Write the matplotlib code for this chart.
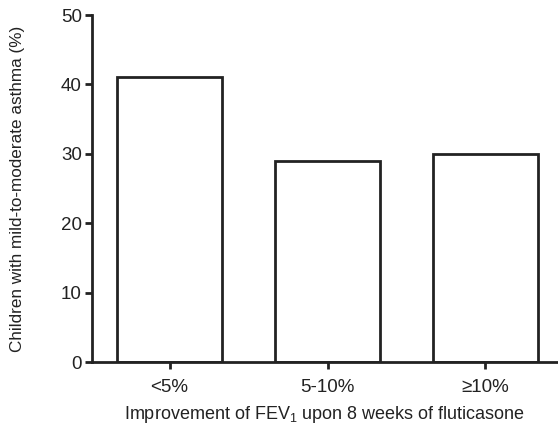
import matplotlib
matplotlib.use('Agg')
import matplotlib.pyplot as plt

plt.rcParams['font.family'] = ['Liberation Sans', 'DejaVu Sans']
plt.rcParams['mathtext.default'] = 'regular'

categories = ['<5%', '5-10%', '≥10%']
values = [41, 29, 30]
y_ticks = [0, 10, 20, 30, 40, 50]

fig = plt.figure(figsize=(5.58, 4.28), dpi=100)
ax = fig.add_axes([0.164, 0.1542, 0.836, 0.8107])

x = range(len(categories))
ax.bar(x, values, width=0.665, color='white', edgecolor='#222222', linewidth=2)

ax.set_xlim(-0.494, 2.459)
ax.set_ylim(0, 50)
ax.set_xticks(list(x))
ax.set_xticklabels(categories, fontsize=13.5)
ax.set_yticks(y_ticks)
ax.tick_params(axis='y', labelsize=13.5, length=5, width=2, pad=2, colors='#222222')
ax.tick_params(axis='x', length=5, width=2, pad=7, colors='#222222')

for s in ['top', 'right']:
    ax.spines[s].set_visible(False)
for s in ['left', 'bottom']:
    ax.spines[s].set_linewidth(2)
    ax.spines[s].set_color('#222222')

ax.set_ylabel('Children with mild-to-moderate asthma (%)', fontsize=12.3, labelpad=26, color='#222222')
ax.set_xlabel(r'Improvement of FEV$_1$ upon 8 weeks of fluticasone', fontsize=13, labelpad=6, color='#222222')

fig.savefig('out.png', dpi=100)
